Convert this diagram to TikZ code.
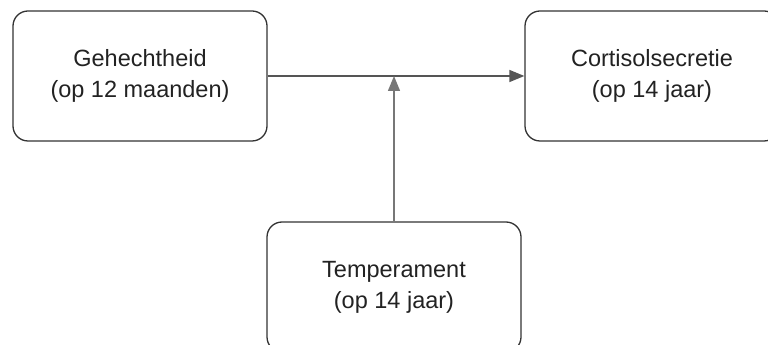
\documentclass[tikz,border=0pt]{standalone}
\usepackage{fontspec}
\setmainfont{Liberation Sans}
\usepackage{xcolor}
\usepackage{tikz}
\usetikzlibrary{arrows.meta,positioning}

\definecolor{boxline}{HTML}{333333}
\definecolor{arrowline}{HTML}{555555}
\definecolor{txt}{HTML}{222222}

\begin{document}
\begin{tikzpicture}[
  x=1pt,y=1pt,
  font=\fontsize{23.5}{31}\selectfont,
  box/.style={draw=boxline,line width=1.3pt,rounded corners=15pt,align=center,text=txt,minimum width=254pt,minimum height=130pt,inner sep=0pt},
  arrow/.style={-{Triangle[length=15pt,width=12pt]},line width=1.4pt,draw=arrowline,fill=arrowline},
]
\clip (0,0) rectangle (768,345);
\node[box] (geh) at (140,269) {Gehechtheid\\(op 12 maanden)};
\node[box] (cort) at (652,269) {Cortisolsecretie\\(op 14 jaar)};
\node[box] (temp) at (394,58) {Temperament\\(op 14 jaar)};

\coordinate (mid) at (temp.north |- geh.east);

\draw[arrow] (geh) -- (cort);
\draw[arrow,draw=arrowline!80] (temp) -- (mid);
\end{tikzpicture}
\end{document}
